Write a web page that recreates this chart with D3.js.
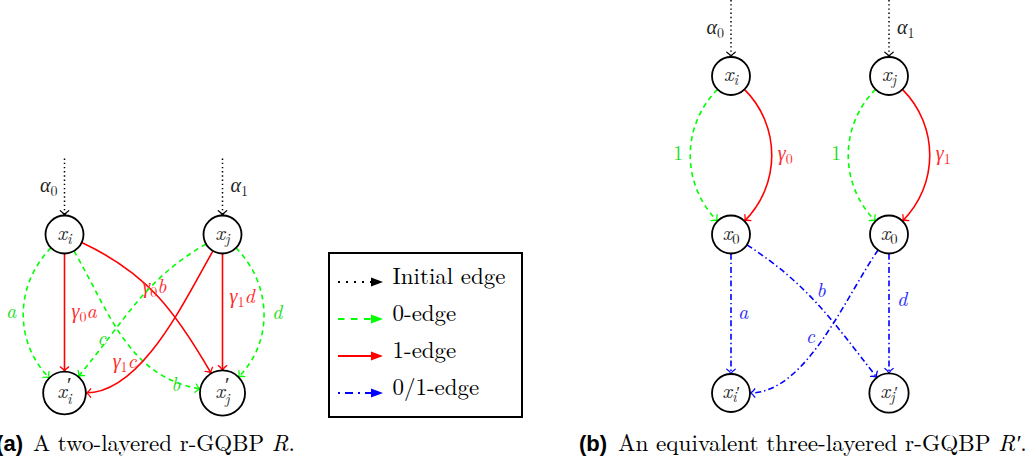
<!DOCTYPE html>
<html>
<head>
<meta charset="utf-8">
<script src="https://cdn.jsdelivr.net/npm/d3@7"></script>
<style>
html, body { margin: 0; padding: 0; background: #fff; }
svg { display: block; }
</style>
</head>
<body>
<svg id="chart" width="1030" height="461"></svg>
<script>
// ---- data ----
// labels use a tiny math syntax: "_c" subscript, "'" prime
const nodesA = [
    { id: 'xi', label: 'x_i', col: 0, layer: 1 },
    { id: 'xj', label: 'x_j', col: 1, layer: 1 },
    { id: 'xi2', label: "x'_i", col: 0, layer: 2 },
    { id: 'xj2', label: "x'_j", col: 1, layer: 2 }
];
const edgesA = [
    { from: 'xi', to: 'xi2', type: 'zero', label: 'a' },
    { from: 'xi', to: 'xi2', type: 'one', label: 'γ_0a' },
    { from: 'xi', to: 'xj2', type: 'one', label: 'γ_0b' },
    { from: 'xi', to: 'xj2', type: 'zero', label: 'b' },
    { from: 'xj', to: 'xi2', type: 'zero', label: 'c' },
    { from: 'xj', to: 'xi2', type: 'one', label: 'γ_1c' },
    { from: 'xj', to: 'xj2', type: 'one', label: 'γ_1d' },
    { from: 'xj', to: 'xj2', type: 'zero', label: 'd' }
];
const initialA = [
    { to: 'xi', label: 'α_0' },
    { to: 'xj', label: 'α_1' }
];

const nodesB = [
    { id: 'xi', label: 'x_i', col: 0, layer: 0 },
    { id: 'xj', label: 'x_j', col: 1, layer: 0 },
    { id: 'x0a', label: 'x_0', col: 0, layer: 1 },
    { id: 'x0b', label: 'x_0', col: 1, layer: 1 },
    { id: 'xi2', label: "x_i'", col: 0, layer: 2 },
    { id: 'xj2', label: "x_j'", col: 1, layer: 2 }
];
const edgesB = [
    { from: 'xi', to: 'x0a', type: 'zero', label: '1' },
    { from: 'xi', to: 'x0a', type: 'one', label: 'γ_0' },
    { from: 'xj', to: 'x0b', type: 'zero', label: '1' },
    { from: 'xj', to: 'x0b', type: 'one', label: 'γ_1' },
    { from: 'x0a', to: 'xi2', type: 'both', label: 'a' },
    { from: 'x0a', to: 'xj2', type: 'both', label: 'b' },
    { from: 'x0b', to: 'xi2', type: 'both', label: 'c' },
    { from: 'x0b', to: 'xj2', type: 'both', label: 'd' }
];
const initialB = [
    { to: 'xi', label: 'α_0' },
    { to: 'xj', label: 'α_1' }
];

const legendTypes = ['initial', 'zero', 'one', 'both'];
const legendLabels = ['Initial edge', '0-edge', '1-edge', '0/1-edge'];

const captionA = { tag: '(a)', text: 'A two-layered r-GQBP ', math: 'R', tail: '.' };
const captionB = { tag: '(b)', text: 'An equivalent three-layered r-GQBP ', math: 'R′', tail: '.' };

// ---- styles / geometry (tikz-like out/in angles, label placement) ----
const routesA = [
    { out: -135, in: 135, pos: 0.5, anchor: 'end', dx: -7, dy: 0 },
    { out: -90, in: 90, pos: 0.5, anchor: 'start', dx: 7, dy: 0 },
    { out: -25, in: 120, pos: 0.5, anchor: 'middle', dx: -3, dy: -8 },
    { out: -60, in: 170, pos: 0.87, anchor: 'middle', dx: 1, dy: 4 },
    { out: -150, in: 50, pos: 0.75, anchor: 'middle', dx: -7, dy: 2 },
    { out: -120, in: 0, loose: 0.75, pos: 0.7, anchor: 'middle', dx: -8, dy: -8 },
    { out: -90, in: 90, pos: 0.5, anchor: 'start', dx: 7, dy: -14 },
    { out: -45, in: 45, pos: 0.5, anchor: 'start', dx: 8, dy: 2 }
];
const routesB = [
    { out: -135, in: 135, pos: 0.5, anchor: 'end', dx: -7, dy: 0 },
    { out: -45, in: 45, pos: 0.5, anchor: 'start', dx: 6, dy: 0 },
    { out: -135, in: 135, pos: 0.5, anchor: 'end', dx: -7, dy: 0 },
    { out: -45, in: 45, pos: 0.5, anchor: 'start', dx: 6, dy: 0 },
    { out: -90, in: 90, pos: 0.5, anchor: 'start', dx: 7, dy: 0 },
    { out: -33, in: 128, pos: 0.5, anchor: 'middle', dx: 3, dy: -13 },
    { out: -125, in: 0, loose: 0.75, pos: 0.5, anchor: 'end', dx: -8, dy: -1 },
    { out: -90, in: 90, pos: 0.5, anchor: 'start', dx: 8, dy: -12 }
];

const SERIF = 'Latin Modern Roman';
const SANS = 'Liberation Sans';
const colors = { initial: '#000000', zero: '#00ff00', one: '#ff0000', both: '#0000ff' };
const labelColors = { initial: '#222', zero: '#22dd22', one: '#ff2a2a', both: '#2a2aff' };
const dashes = { initial: '1.4,2.8', zero: '5,4', one: null, both: '6,3,1.4,3' };
const legendDashes = { initial: '2,6', zero: '6.5,6.5', one: null, both: '2,5,8,5' };
const NODE_SIZE = 21;
const LABEL_SIZE = 20;
const INIT_LEN = 76;

const svg = d3.select('#chart');
svg.append('rect').attr('width', 1030).attr('height', 461).attr('fill', '#fff');

const yScale = d3.scaleLinear().domain([0, 2]).range([76, 393]);

// ---- math text ----
function parseMath (str) {
    const out = [];
    for (let k = 0; k < str.length; k++) {
        const ch = str[k];
        if (ch === '_') {
            const stacked = out.length > 0 && out[out.length - 1].role === 'sup';
            out.push({ c: str[++k], role: 'sub', stacked });
            while (str[k + 1] === "'") { out.push({ c: '′', role: 'subsup', stacked }); k++; }
        } else if (ch === "'") {
            out.push({ c: '′', role: 'sup' });
        } else {
            out.push({ c: ch, role: 'base' });
        }
    }
    return out;
}

function mathText (parent, str, size, color) {
    const text = parent.append('text')
        .attr('font-family', SERIF)
        .attr('font-size', size)
        .attr('fill', color);
    let cur = 0;
    let lastSup = null;
    const box = { h: 0.45, d: 0.0 };
    parseMath(str).forEach(p => {
        const subOff = p.stacked ? 0.3 : 0.2;
        const off = { base: 0, sub: subOff, sup: -0.3, subsup: subOff - 0.22 }[p.role] * size;
        const fs = { base: 1, sub: 0.7, sup: 1.0, subsup: 0.75 }[p.role] * size;
        const ts = text.append('tspan')
            .attr('font-size', fs)
            .attr('font-style', /[A-Za-zα-ω]/.test(p.c) ? 'italic' : 'normal')
            .attr('dy', off - cur)
            .text(p.c);
        if (p.role === 'sub' && p.stacked && lastSup) {
            ts.attr('dx', -lastSup.node().getComputedTextLength());
        }
        if (p.role === 'sup') { lastSup = ts; box.h = 0.78; }
        if (p.role === 'sub') box.d = Math.max(box.d, (p.stacked ? 0.25 : 0.16) + (p.c === 'j' ? 0.15 : 0));
        if (p.role === 'subsup') box.h = Math.max(box.h, 0.55);
        cur = off;
    });
    box.w = text.node().getComputedTextLength() / size;
    return { text, box };
}

// ---- drawing helpers ----
function bezierAt (pts, t) {
    const u = 1 - t;
    const k = [u * u * u, 3 * u * u * t, 3 * u * t * t, t * t * t];
    return [0, 1].map(i => k[0] * pts[0][i] + k[1] * pts[1][i] + k[2] * pts[2][i] + k[3] * pts[3][i]);
}

function route (a, b, r) {
    const rad = Math.PI / 180;
    const dOut = [Math.cos(r.out * rad), -Math.sin(r.out * rad)];
    const dIn = [Math.cos(r.in * rad), -Math.sin(r.in * rad)];
    const p0 = [a.x + a.r * dOut[0], a.y + a.r * dOut[1]];
    const p3 = [b.x + b.r * dIn[0], b.y + b.r * dIn[1]];
    const len = Math.hypot(p3[0] - p0[0], p3[1] - p0[1]) * 0.3915 * (r.loose || 1);
    const c1 = [p0[0] + len * dOut[0], p0[1] + len * dOut[1]];
    const c2 = [p3[0] + len * dIn[0], p3[1] + len * dIn[1]];
    return [p0, c1, c2, p3];
}

function arrowTo (g, tip, angle, color) {
    // tikz default "to" tip: two curved barbs
    g.append('path')
        .attr('d', 'M-4.8,-4.2 C-3.2,-1.6 -1.3,-0.4 0,0 C-1.3,0.4 -3.2,1.6 -4.8,4.2')
        .attr('transform', 'translate(' + tip[0] + ',' + tip[1] + ') rotate(' + (angle * 180 / Math.PI) + ')')
        .attr('fill', 'none')
        .attr('stroke', color)
        .attr('stroke-width', 1.3)
        .attr('stroke-linecap', 'round');
}

function drawPanel (nodes, edges, routes, initials, xScale) {
    const g = svg.append('g');
    const edgeLayer = g.append('g');
    const nodeLayer = g.append('g');
    const byId = {};

    nodes.forEach(n => {
        const ng = nodeLayer.append('g');
        const circle = ng.append('circle');
        const m = mathText(ng, n.label, NODE_SIZE, '#222');
        const cx = xScale(n.col);
        const cy = yScale(n.layer);
        m.text.attr('x', cx).attr('y', cy + 0.24 * NODE_SIZE).attr('text-anchor', 'middle');
        // circle fitted round the text box, like a tikz circle node with a minimum size
        const diag = 0.5 * Math.hypot(m.box.w, m.box.h + m.box.d) * NODE_SIZE;
        const r = Math.max(19, diag + 0.333 * NODE_SIZE);
        circle.attr('cx', cx).attr('cy', cy).attr('r', r)
            .attr('fill', '#fff').attr('stroke', '#000').attr('stroke-width', 1.8);
        byId[n.id] = { x: cx, y: cy, r };
    });

    edges.forEach((e, i) => {
        const r = routes[i];
        const pts = route(byId[e.from], byId[e.to], r);
        const p = d3.path();
        p.moveTo(pts[0][0], pts[0][1]);
        p.bezierCurveTo(pts[1][0], pts[1][1], pts[2][0], pts[2][1], pts[3][0], pts[3][1]);
        edgeLayer.append('path')
            .attr('d', p.toString())
            .attr('fill', 'none')
            .attr('stroke', colors[e.type])
            .attr('stroke-width', 1.6)
            .attr('stroke-dasharray', dashes[e.type]);
        const ang = Math.atan2(pts[3][1] - pts[2][1], pts[3][0] - pts[2][0]);
        arrowTo(edgeLayer, pts[3], ang, colors[e.type]);

        const at = bezierAt(pts, r.pos);
        const m = mathText(edgeLayer, e.label, LABEL_SIZE, labelColors[e.type]);
        m.text.attr('x', at[0] + r.dx)
            .attr('y', at[1] + r.dy + 0.25 * LABEL_SIZE)
            .attr('text-anchor', r.anchor);
    });

    initials.forEach((d, i) => {
        const n = byId[d.to];
        const y0 = n.y - INIT_LEN;
        const y1 = n.y - n.r;
        edgeLayer.append('line')
            .attr('x1', n.x).attr('x2', n.x)
            .attr('y1', y0).attr('y2', y1 - 0.5)
            .attr('stroke', colors.initial)
            .attr('stroke-width', 1.5)
            .attr('stroke-dasharray', dashes.initial);
        arrowTo(edgeLayer, [n.x, y1], Math.PI / 2, colors.initial);
        const m = mathText(edgeLayer, d.label, LABEL_SIZE, labelColors.initial);
        const left = i === 0;
        m.text.attr('x', n.x + (left ? -7 : 8))
            .attr('y', (y0 + y1) / 2 + 0.25 * LABEL_SIZE)
            .attr('text-anchor', left ? 'end' : 'start');
    });
}

drawPanel(nodesA, edgesA, routesA, initialA, d3.scaleLinear().domain([0, 1]).range([64.5, 222.5]));
drawPanel(nodesB, edgesB, routesB, initialB, d3.scaleLinear().domain([0, 1]).range([731, 889]));

// ---- legend ----
function fitText (sel, target) {
    // scale the font so the face takes the same width as the original
    const fs = +sel.attr('font-size');
    const len = sel.node().getComputedTextLength();
    sel.attr('font-size', fs * target / len);
}

const legend = svg.append('g');
legend.append('rect')
    .attr('x', 329).attr('y', 253).attr('width', 193).attr('height', 164)
    .attr('fill', '#fff').attr('stroke', '#000').attr('stroke-width', 2);

const rowY = d3.scalePoint().domain(legendLabels).range([284, 395]);
const legendX = d3.scaleLinear().domain([0, 1]).range([338, 383]);

legendLabels.forEach((lab, i) => {
    const type = legendTypes[i];
    const y = rowY(lab) - 2;
    legend.append('line')
        .attr('x1', legendX(0)).attr('x2', legendX(1) - 10)
        .attr('y1', y).attr('y2', y)
        .attr('stroke', colors[type])
        .attr('stroke-width', 2)
        .attr('stroke-dasharray', legendDashes[type]);
    legend.append('path')
        .attr('d', 'M0,0 L-12,-4.6 L-12,4.6 Z')
        .attr('transform', 'translate(' + legendX(1) + ',' + y + ')')
        .attr('fill', colors[type]);
    const t = legend.append('text')
        .attr('x', 392.5).attr('y', rowY(lab))
        .attr('font-family', SERIF)
        .attr('font-size', 23)
        .attr('fill', '#000')
        .text(lab);
    if (i === 0) fitText(t, 113);
    else t.attr('font-size', legend.select('text').attr('font-size'));
});

// ---- captions ----
function caption (c, tagEnd, textStart, width) {
    svg.append('text')
        .attr('x', tagEnd).attr('y', 451)
        .attr('text-anchor', 'end')
        .attr('font-family', SANS).attr('font-weight', 'bold')
        .attr('font-size', 22)
        .attr('fill', '#000')
        .text(c.tag);
    const t = svg.append('text')
        .attr('x', textStart).attr('y', 451)
        .attr('font-family', SERIF)
        .attr('font-size', 23)
        .attr('fill', '#000');
    t.append('tspan').text(c.text);
    t.append('tspan').attr('font-style', 'italic').text(c.math);
    t.append('tspan').text(c.tail);
    fitText(t, width);
}
caption(captionA, 23, 33, 262);
caption(captionB, 607, 618, 409);
</script>
</body>
</html>
